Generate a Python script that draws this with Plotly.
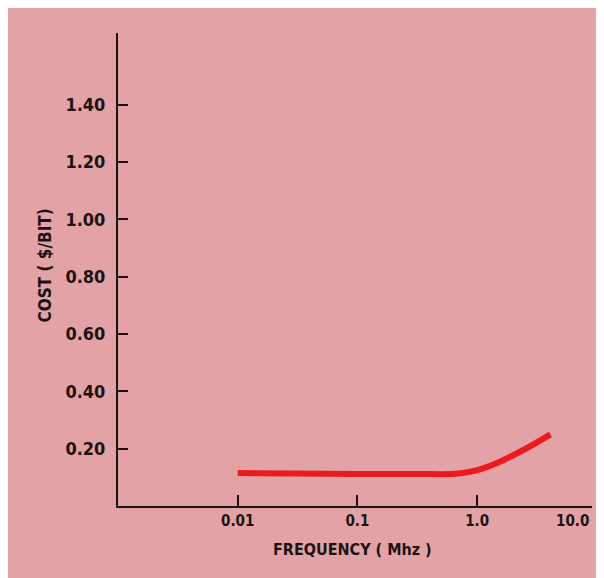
import plotly.graph_objects as go

freq = [0.01, 0.03, 0.1, 0.3, 0.7, 1.0, 1.5, 2.5, 4.1]
cost = [0.115, 0.113, 0.112, 0.112, 0.113, 0.125, 0.152, 0.198, 0.25]

y_ticks = [0.20, 0.40, 0.60, 0.80, 1.00, 1.20, 1.40]
y_labels = ["0.20", "0.40", "0.60", "0.80", "1.00", "1.20", "1.40"]
x_ticks = [0.01, 0.1, 1.0]
x_labels = ["0.01", "0.1", "1.0"]

ink = "#1c1214"
fam = "DejaVu Sans Condensed, Arial"
yf = dict(family=fam, size=18, color=ink, weight="bold")
xf = dict(family=fam, size=15, color=ink, weight="bold")

fig = go.Figure()
fig.add_trace(go.Scatter(x=freq, y=cost, mode="lines",
                         line=dict(color="#ea1a1f", width=6, shape="spline"),
                         showlegend=False, hoverinfo="skip"))

fig.update_layout(
    width=596, height=570,
    margin=dict(l=110, r=12, t=25, b=72),
    paper_bgcolor="#e3a2a6",
    plot_bgcolor="rgba(0,0,0,0)",
    font=yf,
    xaxis=dict(type="log", range=[-3.0, 0.96], tickvals=x_ticks, ticktext=x_labels,
               ticks="inside", ticklen=11, tickwidth=2, tickcolor=ink,
               showline=True, linecolor=ink, linewidth=2, showgrid=False,
               zeroline=False, ticklabelstandoff=0, tickfont=xf),
    yaxis=dict(range=[0, 1.65], tickvals=y_ticks, ticktext=y_labels,
               ticks="inside", ticklen=10, tickwidth=2, tickcolor=ink,
               showline=True, linecolor=ink, linewidth=2, showgrid=False,
               zeroline=False, ticklabelstandoff=7, tickfont=yf),
    annotations=[
        dict(text="10.0", x=0.80, y=0, xref="x", yref="paper", yanchor="top", yshift=-4,
             showarrow=False, font=xf),
        dict(text="FREQUENCY ( Mhz )", x=0.495, y=0, xref="paper", yref="paper",
             yanchor="top", yshift=-32,
             showarrow=False, font=dict(family=fam, size=16, color=ink, weight="bold")),
        dict(text="COST ( $/BIT)", x=0, y=0.5, xref="paper", yref="paper", xshift=-86, yshift=4,
             textangle=-90, showarrow=False,
             font=dict(family=fam, size=17, color=ink, weight="bold")),
    ],
)

fig.write_html("out.html")
